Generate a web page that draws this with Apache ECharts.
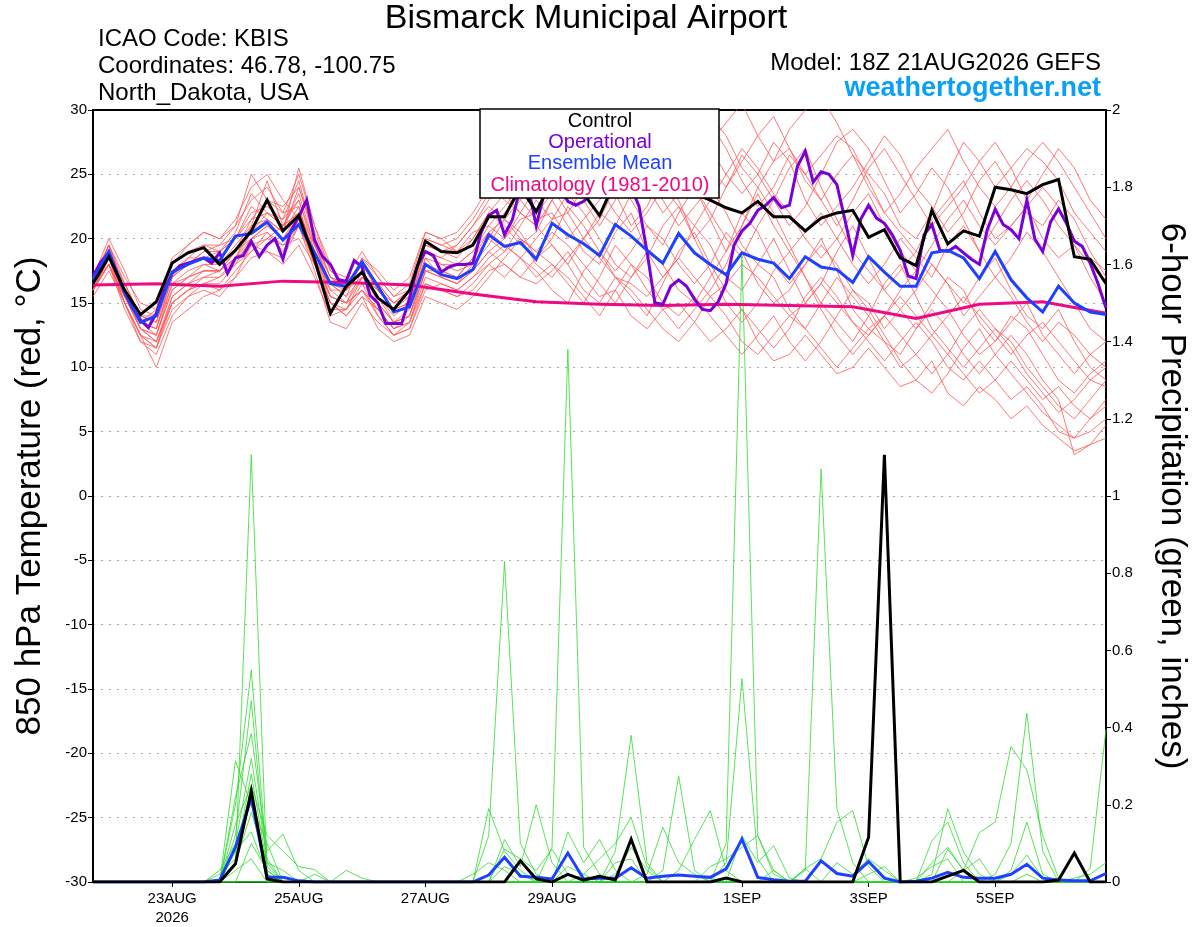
<!DOCTYPE html>
<html>
<head>
<meta charset="utf-8">
<title>Bismarck Municipal Airport</title>
<script src="https://cdn.jsdelivr.net/npm/echarts@6.0.0/dist/echarts.min.js"></script>
<style>
  html, body { margin: 0; padding: 0; background: #fff; }
  #chart { width: 1200px; height: 927px; }
</style>
</head>
<body>
<div id="chart"></div>
<script>
// hours after 18Z 21AUG2026, 6-hourly steps (65 points)
const stepHours = 6;
const opStepHours = 3;
const climStepHours = 24;

const xLabelHours = [30, 78, 126, 174, 246, 294, 342];
const xLabelNames = ['23AUG\n2026', '25AUG', '27AUG', '29AUG', '1SEP', '3SEP', '5SEP'];

// 850 hPa temperature (C)
const controlTemp = [
  16.5, 18.6, 16.0, 14.1, 15.1, 18.1, 18.9, 19.3, 18.0, 19.1,
  20.6, 23.0, 20.6, 21.8, 18.4, 14.2, 16.3, 17.4, 15.4, 14.5,
  16.0, 19.8, 19.0, 18.9, 19.5, 21.7, 21.7, 24.0, 22.1, 24.5,
  24.0, 23.5, 21.8, 24.5, 24.0, 24.5, 25.0, 24.0, 23.5, 23.0,
  22.4, 22.0, 22.9, 21.7, 21.7, 20.6, 21.6, 22.0, 22.2, 20.1,
  20.7, 18.5, 17.9, 22.2, 19.6, 20.6, 20.2, 24.0, 23.8, 23.5,
  24.2, 24.6, 18.6, 18.4, 16.5
];
const meanTemp = [
  16.8, 19.0, 15.8, 13.5, 14.0, 17.4, 18.0, 18.5, 18.3, 20.2,
  20.4, 21.3, 19.9, 21.1, 18.9, 16.5, 16.3, 18.2, 16.3, 14.3,
  14.7, 18.0, 17.2, 16.9, 17.6, 20.3, 19.4, 19.7, 18.4, 21.2,
  20.3, 19.6, 18.7, 21.1, 20.2, 19.1, 18.1, 20.4, 18.9, 18.0,
  17.2, 18.9, 18.4, 18.1, 16.9, 18.6, 17.8, 17.6, 16.6, 18.6,
  17.4, 16.3, 16.3, 18.9, 19.1, 18.5, 16.9, 19.0, 16.8, 15.4,
  14.3, 16.3, 15.0, 14.3, 14.1
];
// operational run is 3-hourly (129 points)
const operTemp = [
  17.1, 18.2, 18.9, 17.3, 15.8, 14.6, 13.7, 13.1, 14.2, 16.0,
  17.3, 17.9, 18.1, 18.3, 18.5, 18.1, 18.9, 17.3, 18.5, 18.7,
  19.8, 18.6, 19.5, 20.0, 18.4, 20.6, 21.7, 23.0, 19.9, 18.6,
  18.0, 16.8, 16.7, 18.3, 17.8, 15.6, 15.0, 13.4, 13.4, 13.4,
  15.4, 17.9, 19.0, 18.7, 17.4, 17.8, 18.0, 18.0, 18.1, 20.4,
  21.8, 22.2, 20.3, 21.5, 24.0, 24.0, 21.0, 23.5, 24.5, 24.0,
  22.9, 22.6, 22.9, 23.5, 24.0, 24.5, 24.0, 23.5, 24.0, 22.5,
  19.0, 15.0, 14.9, 16.3, 16.8, 16.3, 15.3, 14.5, 14.4, 15.1,
  16.5, 19.5, 20.6, 21.2, 22.2, 22.6, 23.2, 22.4, 22.6, 25.6,
  26.8, 24.4, 25.2, 25.0, 24.2, 21.5, 18.7, 21.5, 22.6, 21.6,
  21.2, 20.3, 19.1, 17.1, 16.9, 20.3, 21.1, 19.1, 19.0, 19.4,
  18.9, 18.4, 18.0, 20.7, 22.3, 21.1, 20.7, 20.0, 23.0, 20.0,
  19.0, 21.3, 22.3, 21.2, 19.8, 19.4, 18.1, 16.5, 14.6
];
// climatology is daily (17 points)
const climTemp = [16.4, 16.5, 16.3, 16.7, 16.6, 16.4, 15.7, 15.1, 14.9, 14.8, 14.9, 14.8, 14.7, 13.8, 14.9, 15.1, 14.2];

// ensemble members, temperature
const t01 = [16.5,19.5,16,13.5,14.5,18.5,19.5,20.5,20,21, 25,23,22.5,24,20,17,16.5,18,16,14.5, 15.5,19,18.5,18,19,21,22.5,24,25.5,27, 28,26.5,24,25.5,27,29,28,26,25,27.5, 29,30.5,28,26,27,24.5,23,25,26.5,24, 22,20.5,19,21.5,23,24.5,22,20,21,22.5, 20,18.5,19.5,17,15];
const t02 = [16,18,15,12,11.5,14.5,15.5,16,15.5,17, 18.5,19,18,19.5,17,14,14.5,16,14.5,13, 13.5,16.5,16,15.5,16,17.5,18,17,16.5,17.5, 19,17,15.5,16,14,13,14.5,15,13.5,12, 13,14.5,12,10.5,11,12.5,11,9.5,10,11.5, 10,8.5,9,10.5,8,7,8.5,7.5,6,7, 5.5,4.5,3.5,4,5.5];
const t03 = [17,19,15.5,13,12.5,16,17,18,17.5,18.5, 21,24.5,21,22,19,15.5,15,17.5,15,13.5, 14,18,17.5,17,18.5,20,19,21,23,21.5, 22,24,26,23.5,21,22.5,25,27,24,22, 20,18.5,21,23,25.5,27,24,21.5,19,17.5, 16,17.5,19,18,16.5,15,17,18.5,16,14, 13,14.5,12,10,9];
const t04 = [16.5,18.5,16.5,14,13.5,17,18,19,19.5,20, 22.5,21.5,20.5,25.5,21,18,16,17,16.5,15, 16,19.5,19,18.5,20,22,21,19.5,20.5,23, 21,19,18,20.5,22,19,17,18.5,21,19.5, 17,16,18,20,17.5,15,16.5,19,21,18.5, 16,14.5,13,15,17,16,13.5,12,13.5,15, 12.5,11,9.5,11,12];
const t05 = [16,18.5,15,12.5,10,13.5,14.5,15.5,16,17.5, 19,20.5,19.5,20,18,15,14,15.5,13,12, 12.5,15.5,15,14.5,15.5,17,18.5,20,19,18, 16.5,15,17,19.5,18,16,14.5,13,14.5,16, 18,21,24,22,19.5,17,15,13.5,12,14, 16.5,18,15.5,13,11.5,10,11.5,13,12,10, 8.5,7,6,7.5,9];
const t06 = [17,19.5,17,15,14.5,18,19,19.5,19,20.5, 23.5,22,21,23,19.5,16.5,15.5,18.5,17.5,16, 17,20.5,20,20.5,22,24,23,22,24,25.5, 24,26,28.5,30,31,28.5,26,24.5,27,29.5, 28,25.5,24,26,28.5,30,31,29,26.5,25, 23.5,21,20,22,25,27.5,26,24,25.5,27, 26,24.5,22,20.5,19];
const t07 = [16,18,15.5,13.5,13,17,18.5,18.5,18,19, 20,20.5,19,21,18.5,16,16,17.5,15.5,14, 15,19,18,17.5,18,19.5,21.5,20.5,18.5,20, 22.5,21,19,17.5,19,21,20,18,16.5,18, 20.5,19,16.5,15,16,18,20,17.5,14.5,13, 14,16,17.5,16,14.5,12.5,11,12,14,13, 11,9,8,9.5,10.5];
const t08 = [16.5,19,16,13,12,15.5,16.5,17,17.5,19, 21.5,23,22,22.5,18,14.5,14.5,17,15.5,13.5, 14.5,18.5,17,16.5,17.5,19,20,22,21,19.5, 18,20,22,21,23.5,25,23,21,22.5,24, 22,19.5,18,17,14.5,13,15,17,15.5,14, 12,11,13,14.5,13,11,9.5,11,12.5,11, 9,7.5,3.2,4,4.5];
const t09 = [16,18.5,16,13.5,12.5,16.5,17.5,18,18,19.5, 21,21.5,20.5,24,20.5,17.5,17,19,17,15.5, 16,20,19.5,19,20.5,21,20,21.5,22,23.5, 25,23,21,23,25.5,24,22,23.5,25.5,27, 25,23.5,25,27.5,26,23,21,22.5,24,26, 28,26.5,24,22.5,20.5,22,24.5,26,24,22, 21,23,21.5,19,17];
const t10 = [16.5,18,14.5,12,11,14,15.5,16.5,16,17, 19.5,19,18.5,21,17.5,13.5,13,15,13.5,12.5, 13,16,16.5,16,17,18,17,18.5,17.5,16, 15,17.5,19,17,15.5,14,16.5,19,20.5,18, 16,14.5,13,11.5,13,15.5,17,15.5,13.5,12, 10.5,12,13.5,12,10,9,10.5,9,7.5,8.5, 7,5,4.5,6,7];
const t11 = [17,20,17.5,14.5,14,18,19.5,20.5,20,21.5, 24,25,23,21.5,19,16.5,15.5,17,16,14.5, 15,19,18.5,19.5,21,23,24.5,23,21.5,22, 20,21.5,23,25,23,21,19.5,22,24,21.5, 19,21,23.5,21,19,20.5,22,20,18,16.5, 18,20,18.5,17,19.5,21,19,17,18.5,20.5, 19,17,15,13,12];
const t12 = [15.5,17.5,15,12.5,11.5,15,16,17,17,18, 20,21,20,22,19.5,17,16.5,16.5,14,12.5, 13.5,17.5,17,16.5,18,20,22,23.5,26,24, 22,20,21.5,24,26.5,27.5,25,23,20,21.5, 24,26.5,25,23,21,22.5,25,27.5,28.5,27, 24.5,22,23.5,25.5,24,21.5,19,21,23,24.5, 23,21,19.5,18,16.5];
const t13 = [16.5,19,16,13.5,13,16.5,17,17.5,17.5,18.5, 20.5,22,21.5,23,19,16,15,17,16,14.5, 15,18.5,18,18,19,20.5,19.5,18.5,20,21.5, 23.5,22,20,18,17,18.5,21,22.5,20,17.5, 15,13.5,15,17.5,19,17,14.5,12.5,11,12.5, 14,12.5,11,9.5,11,13,14.5,13,11.5,9.5, 8,6.5,7.5,9,10];
const t14 = [16,18,15.5,13,12,15,16,16.5,17,18.5, 19.5,20,21,22,18.5,15.5,15,16,14.5,13, 14,17.5,17.5,17,18.5,20.5,21.5,20,19,20.5, 19.5,18,16.5,15,17,19,18,16,15,17, 19,22,20.5,18,16.5,18,19.5,18,16,15, 13,14.5,16,18,16.5,14,15.5,17,15.5,13.5, 12,13.5,12.5,11,10];
const t15 = [16.5,19.5,16.5,14,13.5,17.5,18,19,19,20, 22,22.5,21.5,24.5,20,17,16,18,16,15, 15.5,19.5,19,19.5,21,22.5,21.5,23,24.5,26.5, 25,27,29,27.5,25,23.5,25.5,28,30.5,29, 27,24.5,22.5,24,26.5,25,23,21,23,25.5, 27,25,23,21,22.5,24,26,27.5,25.5,23, 25,27,25.5,23,21.5];
const t16 = [16,18.5,15,12.5,11.5,15.5,16.5,17.5,17.5,18.5, 20,21,20,21.5,18,15,14,15.5,14.5,13, 13.5,17,16.5,16,17,18.5,19.5,18.5,17,18, 17,15.5,14,16,18,17,15,14,15.5,14, 12.5,11,12.5,14,12,10.5,12,14,16,14.5, 12.5,10.5,9,8,9.5,11.5,13,11,9.5,8, 6.5,5.5,4.5,5,6];
const t17 = [16.5,19,16.5,14,14,17.5,18.5,19.5,19.5,21, 23,24,22,25,21,17.5,16.5,18,16.5,15, 16,20,19.5,20,21.5,23.5,25,26.5,25,24, 26,28,27,25,26.5,28,30,29,27,25.5, 24,26,28,29.5,27,25,26.5,28,27,24.5, 22,23.5,25.5,27,28.5,26,24,22.5,24,26, 27.5,26,24,22,20];
const t18 = [16,18.5,15.5,13,12.5,16,17,17.5,17.5,19, 20.5,21.5,20.5,22.5,18.5,15,14.5,16.5,15,13.5, 14,17.5,17,16.5,17.5,19,18,17,18.5,19.5, 18,16,15,17,16,14.5,13,12,13.5,15.5, 14,12,11,12.5,14,13,11.5,10,11.5,13, 12,10,11,12.5,11,9.5,8,9,10.5,9, 7.5,8.5,7,6,7.5];
const t19 = [16.5,19.5,16,13.5,13,17,18,18.5,19,20, 21.5,22,21,23.5,19.5,16.5,16,18.5,17,15.5, 16.5,20.5,20,19,20,22,23.5,22,21,23, 24.5,26,24,22,20.5,22,24,22.5,21,23, 25,27,25.5,23.5,22,20,18.5,20,22,23.5, 21,19,17.5,19.5,21.5,23,21,19.5,21,22.5, 24,22.5,20,18.5,17.5];
const t20 = [16,18,15,12.5,12,15,16,16.5,16.5,18, 19,20,19.5,21,18,15.5,15,16,14,12.5, 13,16.5,16,15.5,16.5,18,19,20,18,17, 18.5,20,18.5,17,16.5,15.5,17,18.5,17,15.5, 16.5,18,17,15.5,14,15,16.5,15,13.5,12.5, 14,15.5,14,12.5,14,15.5,14,12.5,11,12.5, 13.5,12,10.5,9,8.5];
const tempMembers = [t01, t02, t03, t04, t05, t06, t07, t08, t09, t10, t11, t12, t13, t14, t15, t16, t17, t18, t19, t20];

// 6-hour precipitation (inches)
const controlPrecip = [
  0, 0, 0, 0, 0, 0, 0, 0, 0, 0.047,
  0.236, 0.008, 0, 0, 0, 0, 0, 0, 0, 0,
  0, 0, 0, 0, 0, 0, 0, 0.055, 0.008, 0,
  0.02, 0.005, 0.015, 0.005, 0.111, 0, 0, 0, 0, 0,
  0.01, 0, 0, 0, 0, 0, 0, 0, 0, 0.116,
  1.107, 0, 0, 0, 0.015, 0.03, 0, 0, 0, 0,
  0, 0.005, 0.075, 0, 0
];
const meanPrecip = [
  0, 0, 0, 0, 0, 0, 0, 0, 0.005, 0.09,
  0.217, 0.012, 0.012, 0.003, 0, 0, 0, 0, 0, 0,
  0, 0, 0, 0, 0, 0.018, 0.064, 0.015, 0.012, 0.008,
  0.075, 0.008, 0.01, 0.01, 0.037, 0.01, 0.015, 0.018, 0.015, 0.012,
  0.034, 0.111, 0.012, 0.006, 0.002, 0.002, 0.055, 0.022, 0.015, 0.053,
  0.01, 0, 0.002, 0.01, 0.025, 0.012, 0.01, 0.01, 0.02, 0.046,
  0.01, 0.005, 0.003, 0.003, 0.022
];

// ensemble members, precipitation
const p01 = [0,0,0,0,0,0,0,0,0,0.05, 1.107,0.02,0,0,0,0,0,0,0,0, 0,0,0,0,0,0.12,0.83,0.1,0.02,0, 0,0,0,0,0,0,0,0,0,0, 0.1,1.62,0.12,0.02,0,0,0,0,0,0, 0,0,0,0,0,0,0,0,0,0, 0,0,0,0,0];
const p02 = [0,0,0,0,0,0,0,0,0,0.2, 0.55,0.05,0,0,0,0,0,0,0,0, 0,0,0,0,0,0.19,0.08,0.03,0,0, 0,0,0,0,0,0,0,0,0,0, 0.05,0.527,0.06,0,0,0,0,0,0,0, 0,0,0,0,0,0,0,0,0,0.02, 0,0,0,0,0];
const p03 = [0,0,0,0,0,0,0,0,0,0.12, 0.47,0.03,0,0,0,0,0,0,0,0, 0,0,0,0,0,0,0.11,0.04,0.2,0.05, 0,0,0,0,0,0,0,0,0,0, 0,0.12,0.05,0.094,0.01,0,0,0,0,0, 0,0,0,0,0,0,0,0,0,0, 0,0,0,0,0];
const p04 = [0,0,0,0,0,0,0,0,0,0.314, 0.2,0.1,0,0,0,0,0,0,0,0, 0,0,0,0,0,0,0,0,0,0.09, 1.38,0.09,0.02,0,0,0,0,0,0,0, 0,0,0,0,0,0.03,1.07,0.19,0.05,0, 0,0,0,0,0,0,0,0,0,0, 0,0,0,0,0];
const p05 = [0,0,0,0,0,0,0,0,0,0.22, 0.385,0.08,0.124,0.03,0,0,0,0,0,0, 0,0,0,0,0,0,0.04,0.02,0,0, 0.13,0.05,0.11,0.03,0,0,0,0,0,0, 0,0,0,0,0,0.035,0.06,0.155,0.185,0.04, 0,0,0,0,0,0,0,0,0,0, 0,0,0,0,0];
const p06 = [0,0,0,0,0,0,0,0,0.03,0.1, 0.32,0.06,0,0,0,0,0,0,0,0, 0,0,0,0,0,0,0,0,0,0, 0,0,0,0.08,0.38,0.05,0,0,0,0, 0,0,0,0,0,0,0,0.05,0.02,0.06, 0.03,0,0,0.02,0.19,0.077,0.02,0,0,0, 0,0,0,0,0];
const p07 = [0,0,0,0,0,0,0,0,0,0.15, 0.25,0.12,0.08,0.04,0.032,0,0,0,0,0, 0,0,0,0,0,0,0,0,0,0, 0,0.02,0.06,0.1,0.167,0.04,0,0,0,0, 0,0,0,0,0,0,0,0,0,0, 0,0,0,0.107,0.155,0.05,0,0,0,0, 0,0,0,0,0];
const p08 = [0,0,0,0,0,0,0,0,0,0.05, 0.18,0.05,0.03,0,0,0,0,0,0,0, 0,0,0,0,0,0,0.085,0.06,0.03,0.085, 0.02,0,0,0,0,0,0,0,0,0, 0,0,0,0,0,0,0,0,0,0, 0,0,0,0,0.085,0.03,0.06,0,0.03,0.155, 0.02,0,0,0,0];
const p09 = [0,0,0,0,0,0,0,0,0,0.08, 0.13,0.02,0,0,0,0,0,0,0,0, 0,0,0,0,0.02,0.05,0.03,0,0,0, 0,0,0,0,0,0,0,0,0,0, 0,0,0,0,0,0,0,0,0,0, 0,0,0,0,0,0.03,0.128,0.155,0.351,0.29, 0.12,0.01,0,0,0];
const p10 = [0,0,0,0,0,0,0,0,0.02,0.06, 0.28,0.04,0,0,0,0,0,0,0,0, 0,0,0,0,0,0,0,0,0,0, 0.04,0.02,0,0.05,0.06,0,0,0,0,0, 0,0,0,0,0,0,0,0,0,0, 0,0,0,0,0,0,0,0.02,0.1,0.437, 0.08,0,0,0,0];
const p11 = [0,0,0,0,0,0,0,0,0,0, 0.1,0.03,0,0,0,0,0,0,0,0, 0,0,0,0,0,0,0,0,0,0, 0,0,0,0,0,0.02,0.142,0.05,0.02,0, 0,0,0,0,0,0,0,0,0,0, 0,0,0,0,0,0,0,0,0.02,0.07, 0.01,0,0,0.035,0.396];
const p12 = [0,0,0,0,0,0,0,0,0,0.03, 0.06,0,0,0,0,0,0,0,0,0, 0,0,0,0,0,0,0,0,0,0, 0,0,0,0,0,0,0.03,0.275,0.03,0, 0,0,0,0.03,0,0.035,0,0,0,0, 0,0,0,0,0,0,0,0,0,0, 0,0,0.01,0.02,0.05];
const p13 = [0,0,0,0,0,0,0,0,0,0, 0,0,0,0,0,0,0,0,0,0, 0,0,0,0,0,0,0,0,0,0, 0,0,0,0,0,0,0,0.03,0.11,0.185, 0.03,0,0,0,0,0,0,0,0,0.02, 0.04,0,0,0,0,0,0,0,0,0, 0,0,0,0,0];
const p14 = [0,0,0,0,0,0,0,0,0,0, 0,0,0,0,0,0,0,0,0,0, 0,0,0,0,0,0,0,0,0,0, 0,0,0,0,0,0,0,0,0,0.04, 0.06,0.09,0.12,0.03,0,0,0,0,0,0, 0,0,0,0.05,0.09,0.03,0,0,0,0, 0,0,0,0,0];
const p15 = [0,0,0,0,0,0,0,0,0,0, 0,0,0,0,0.02,0,0.03,0.01,0,0, 0,0,0,0,0,0,0,0,0,0, 0,0,0,0.02,0.09,0.03,0,0,0,0, 0,0,0,0,0,0,0,0,0,0, 0,0,0.01,0.04,0.06,0,0,0,0,0, 0,0,0,0,0];
const precipMembers = [p01, p02, p03, p04, p05, p06, p07, p08, p09, p10, p11, p12, p13, p14, p15];

const font = 'Liberation Sans, Helvetica, Arial, sans-serif';

function toPairs(values, step) {
  return values.map((v, i) => [i * step, v]);
}

function lineSeries(name, values, step, color, width, yAxisIndex, z) {
  return {
    name: name,
    type: 'line',
    yAxisIndex: yAxisIndex,
    data: toPairs(values, step),
    showSymbol: false,
    symbol: 'none',
    silent: true,
    z: z,
    lineStyle: { color: color, width: width, join: 'miter' }
  };
}

let series = [];
tempMembers.forEach((m, k) => {
  series.push(lineSeries('Member ' + (k + 1), m, stepHours, '#ff5555', 0.8, 0, 1));
});
precipMembers.forEach((m, k) => {
  series.push(lineSeries('Precip member ' + (k + 1), m, stepHours, '#2edb2e', 0.8, 1, 2));
});
series.push(lineSeries('Climatology (1981-2010)', climTemp, climStepHours, '#ee0a82', 3, 0, 3));
series.push(lineSeries('Operational', operTemp, opStepHours, '#7a00d6', 3, 0, 4));
series.push(lineSeries('Ensemble Mean', meanTemp, stepHours, '#1e40ff', 3, 0, 5));
series.push(lineSeries('Control', controlTemp, stepHours, '#000000', 3, 0, 6));
series.push(lineSeries('Ensemble Mean precip', meanPrecip, stepHours, '#1e40ff', 3, 1, 5));
series.push(lineSeries('Control precip', controlPrecip, stepHours, '#000000', 3, 1, 6));

function header(text, x, y, size, color, align, bold) {
  return {
    type: 'text', x: x, y: y, z: 50,
    style: {
      text: text, fill: color, textAlign: align, textVerticalAlign: 'middle',
      font: (bold ? 'bold ' : '') + size + 'px ' + font
    }
  };
}

const chart = echarts.init(document.getElementById('chart'));
const option = {
  backgroundColor: '#ffffff',
  animation: false,
  textStyle: { fontFamily: font },
  grid: { left: 93, right: 94, top: 110, bottom: 44 },
  xAxis: [
    {
      type: 'value',
      min: 0,
      max: 384,
      position: 'bottom',
      axisLine: { show: true, onZero: false, lineStyle: { color: '#000', width: 2 } },
      axisTick: { show: true, customValues: xLabelHours, length: 5, lineStyle: { color: '#000' } },
      axisLabel: {
        customValues: xLabelHours,
        color: '#000',
        fontSize: 15,
        lineHeight: 19,
        margin: 7,
        formatter: function (v) {
          const k = xLabelHours.indexOf(v);
          return k >= 0 ? xLabelNames[k] : '';
        }
      },
      splitLine: { show: false }
    },
    {
      type: 'value',
      min: 0,
      max: 384,
      position: 'top',
      axisLine: { show: true, onZero: false, lineStyle: { color: '#000', width: 2 } },
      axisTick: { show: false },
      axisLabel: { show: false },
      splitLine: { show: false }
    }
  ],
  yAxis: [
    {
      type: 'value',
      min: -30,
      max: 30,
      interval: 5,
      position: 'left',
      name: '850 hPa Temperature (red, °C)',
      nameLocation: 'middle',
      nameRotate: 90,
      nameGap: 45,
      nameTextStyle: { fontSize: 35, color: '#000', fontFamily: font },
      axisLine: { show: true, onZero: false, lineStyle: { color: '#000', width: 2 } },
      axisTick: { show: true, length: 5, lineStyle: { color: '#000' } },
      axisLabel: { color: '#000', fontSize: 15, margin: 6 },
      splitLine: { show: true, showMinLine: false, showMaxLine: false, lineStyle: { color: '#aaaaaa', type: [2, 6], width: 1.2 } }
    },
    {
      type: 'value',
      min: 0,
      max: 2,
      interval: 0.2,
      position: 'right',
      name: '6-hour Precipitation (green, inches)',
      nameLocation: 'middle',
      nameRotate: -90,
      nameGap: 48,
      nameTextStyle: { fontSize: 35, color: '#000', fontFamily: font },
      axisLine: { show: true, onZero: false, lineStyle: { color: '#000', width: 2 } },
      axisTick: { show: true, length: 5, lineStyle: { color: '#000' } },
      axisLabel: { color: '#000', fontSize: 15, margin: 6 },
      splitLine: { show: false }
    }
  ],
  graphic: [
    header('Bismarck Municipal Airport', 586, 19, 34, '#000', 'center', false),
    header('ICAO Code: KBIS', 98, 39, 24, '#000', 'left', false),
    header('Coordinates: 46.78, -100.75', 98, 66, 24, '#000', 'left', false),
    header('North_Dakota, USA', 98, 93, 24, '#000', 'left', false),
    header('Model: 18Z 21AUG2026 GEFS', 1101, 63, 24, '#000', 'right', false),
    header('weathertogether.net', 1101, 89, 27, '#0aa0f5', 'right', true),
    {
      type: 'rect', z: 100,
      shape: { x: 480, y: 109, width: 239, height: 89 },
      style: { fill: '#ffffff', stroke: '#000000', lineWidth: 1.5 }
    },
    { type: 'text', z: 101, x: 600, y: 121, style: { text: 'Control', font: '20px ' + font, fill: '#000', textAlign: 'center', textVerticalAlign: 'middle' } },
    { type: 'text', z: 101, x: 600, y: 142, style: { text: 'Operational', font: '20px ' + font, fill: '#7a00d6', textAlign: 'center', textVerticalAlign: 'middle' } },
    { type: 'text', z: 101, x: 600, y: 163, style: { text: 'Ensemble Mean', font: '20px ' + font, fill: '#1e40ff', textAlign: 'center', textVerticalAlign: 'middle' } },
    { type: 'text', z: 101, x: 600, y: 185, style: { text: 'Climatology (1981-2010)', font: '20px ' + font, fill: '#ee0a82', textAlign: 'center', textVerticalAlign: 'middle' } }
  ],
  series: series
};
chart.setOption(option);
</script>
</body>
</html>
